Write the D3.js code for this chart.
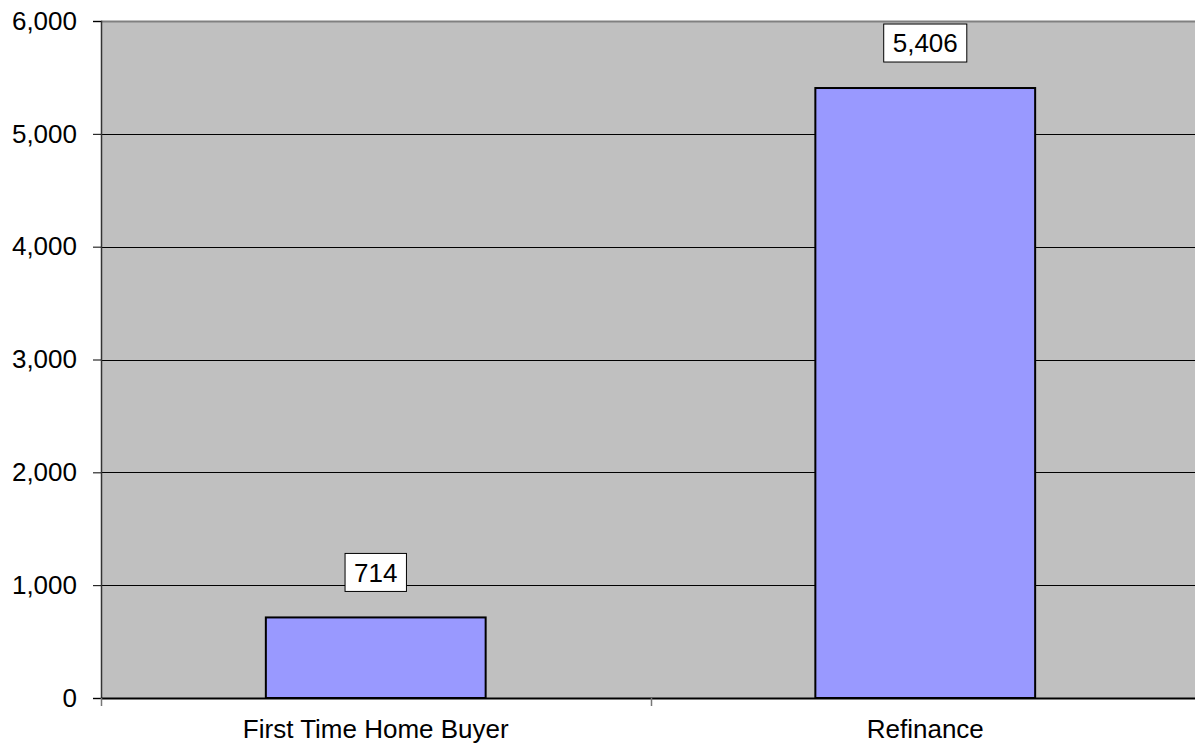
<!DOCTYPE html>
<html>
<head>
<meta charset="utf-8">
<script src="https://cdn.jsdelivr.net/npm/d3@7"></script>
<style>
  body { margin: 0; background: #fff; }
  text { font-family: "Liberation Sans", Arial, sans-serif; }
</style>
</head>
<body>
<div class="chart"></div>
<script>
var categories = ["First Time Home Buyer", "Refinance"];
var values = [714, 5406];
var yTicks = [0, 1000, 2000, 3000, 4000, 5000, 6000];

var svgWidth = 1195;
var svgHeight = 747;
var fontSize = "26px";

var margin = { top: 21, right: -5, bottom: 49, left: 101 };
var width = svgWidth - margin.left - margin.right;
var height = svgHeight - margin.top - margin.bottom;

var svg = d3.select(".chart")
  .append("svg")
  .attr("width", svgWidth)
  .attr("height", svgHeight);

var chartGroup = svg.append("g")
  .attr("transform", `translate(${margin.left}, ${margin.top})`);

var xScale = d3.scaleBand()
  .domain(categories)
  .range([0, width])
  .paddingInner(0.6)
  .paddingOuter(0.3);

var yScale = d3.scaleLinear()
  .domain([0, 6000])
  .range([height, 0]);

// plot background
chartGroup.append("rect")
  .attr("x", 0)
  .attr("y", 0)
  .attr("width", width)
  .attr("height", height)
  .attr("fill", "#c0c0c0");

// gridlines
chartGroup.selectAll(".grid")
  .data(yTicks.filter(d => d > 0 && d < 6000))
  .enter()
  .append("line")
  .attr("x1", 0)
  .attr("x2", width)
  .attr("y1", d => Math.round(yScale(d)) + 0.5)
  .attr("y2", d => Math.round(yScale(d)) + 0.5)
  .attr("stroke", "#000")
  .attr("stroke-width", 1);

// top border
chartGroup.append("line")
  .attr("x1", 0).attr("x2", width)
  .attr("y1", 0.5).attr("y2", 0.5)
  .attr("stroke", "#808080")
  .attr("stroke-width", 2);

// y axis
var leftAxis = d3.axisLeft(yScale)
  .tickValues(yTicks)
  .tickSize(8)
  .tickPadding(16)
  .tickFormat(d3.format(","));

var yAxis = chartGroup.append("g").call(leftAxis);
yAxis.attr("font-size", fontSize).attr("font-family", null);
yAxis.select(".domain").attr("stroke", "#333").attr("stroke-width", 1.5);
yAxis.selectAll(".tick line").attr("stroke", "#000");
yAxis.selectAll(".tick text").attr("fill", "#000");

// bars
chartGroup.selectAll(".bar")
  .data(values)
  .enter()
  .append("rect")
  .attr("x", (d, i) => xScale(categories[i]))
  .attr("y", d => yScale(d))
  .attr("width", xScale.bandwidth())
  .attr("height", d => height - yScale(d))
  .attr("fill", "#9999ff")
  .attr("stroke", "#000")
  .attr("stroke-width", 2);

// x axis
var bottomAxis = d3.axisBottom(xScale)
  .tickSize(0)
  .tickPadding(22);

var xAxis = chartGroup.append("g")
  .attr("transform", `translate(0, ${height})`)
  .call(bottomAxis);
xAxis.attr("font-size", fontSize).attr("font-family", null);
xAxis.select(".domain").attr("stroke", "#000").attr("stroke-width", 2);
xAxis.selectAll(".tick text").attr("fill", "#000");

// category separators
var seps = [0, width / 2];
chartGroup.selectAll(".sep")
  .data(seps)
  .enter()
  .append("line")
  .attr("x1", d => Math.round(d) + 0.5)
  .attr("x2", d => Math.round(d) + 0.5)
  .attr("y1", height)
  .attr("y2", height + 8)
  .attr("stroke", "#777")
  .attr("stroke-width", 1.5);

// value labels
var labels = chartGroup.selectAll(".valueLabel")
  .data(values)
  .enter()
  .append("g")
  .attr("transform", (d, i) => `translate(${xScale(categories[i]) + xScale.bandwidth() / 2}, ${yScale(d) - 45})`);

labels.append("text")
  .attr("text-anchor", "middle")
  .attr("dy", "0.35em")
  .attr("font-size", fontSize)
  .attr("fill", "#000")
  .text(d => d3.format(",")(d));

labels.each(function() {
  var g = d3.select(this);
  var bb = g.select("text").node().getBBox();
  g.insert("rect", "text")
    .attr("x", bb.x - 9)
    .attr("y", -19)
    .attr("width", bb.width + 18)
    .attr("height", 38)
    .attr("fill", "#fff")
    .attr("stroke", "#000")
    .attr("stroke-width", 1);
});
</script>
</body>
</html>
